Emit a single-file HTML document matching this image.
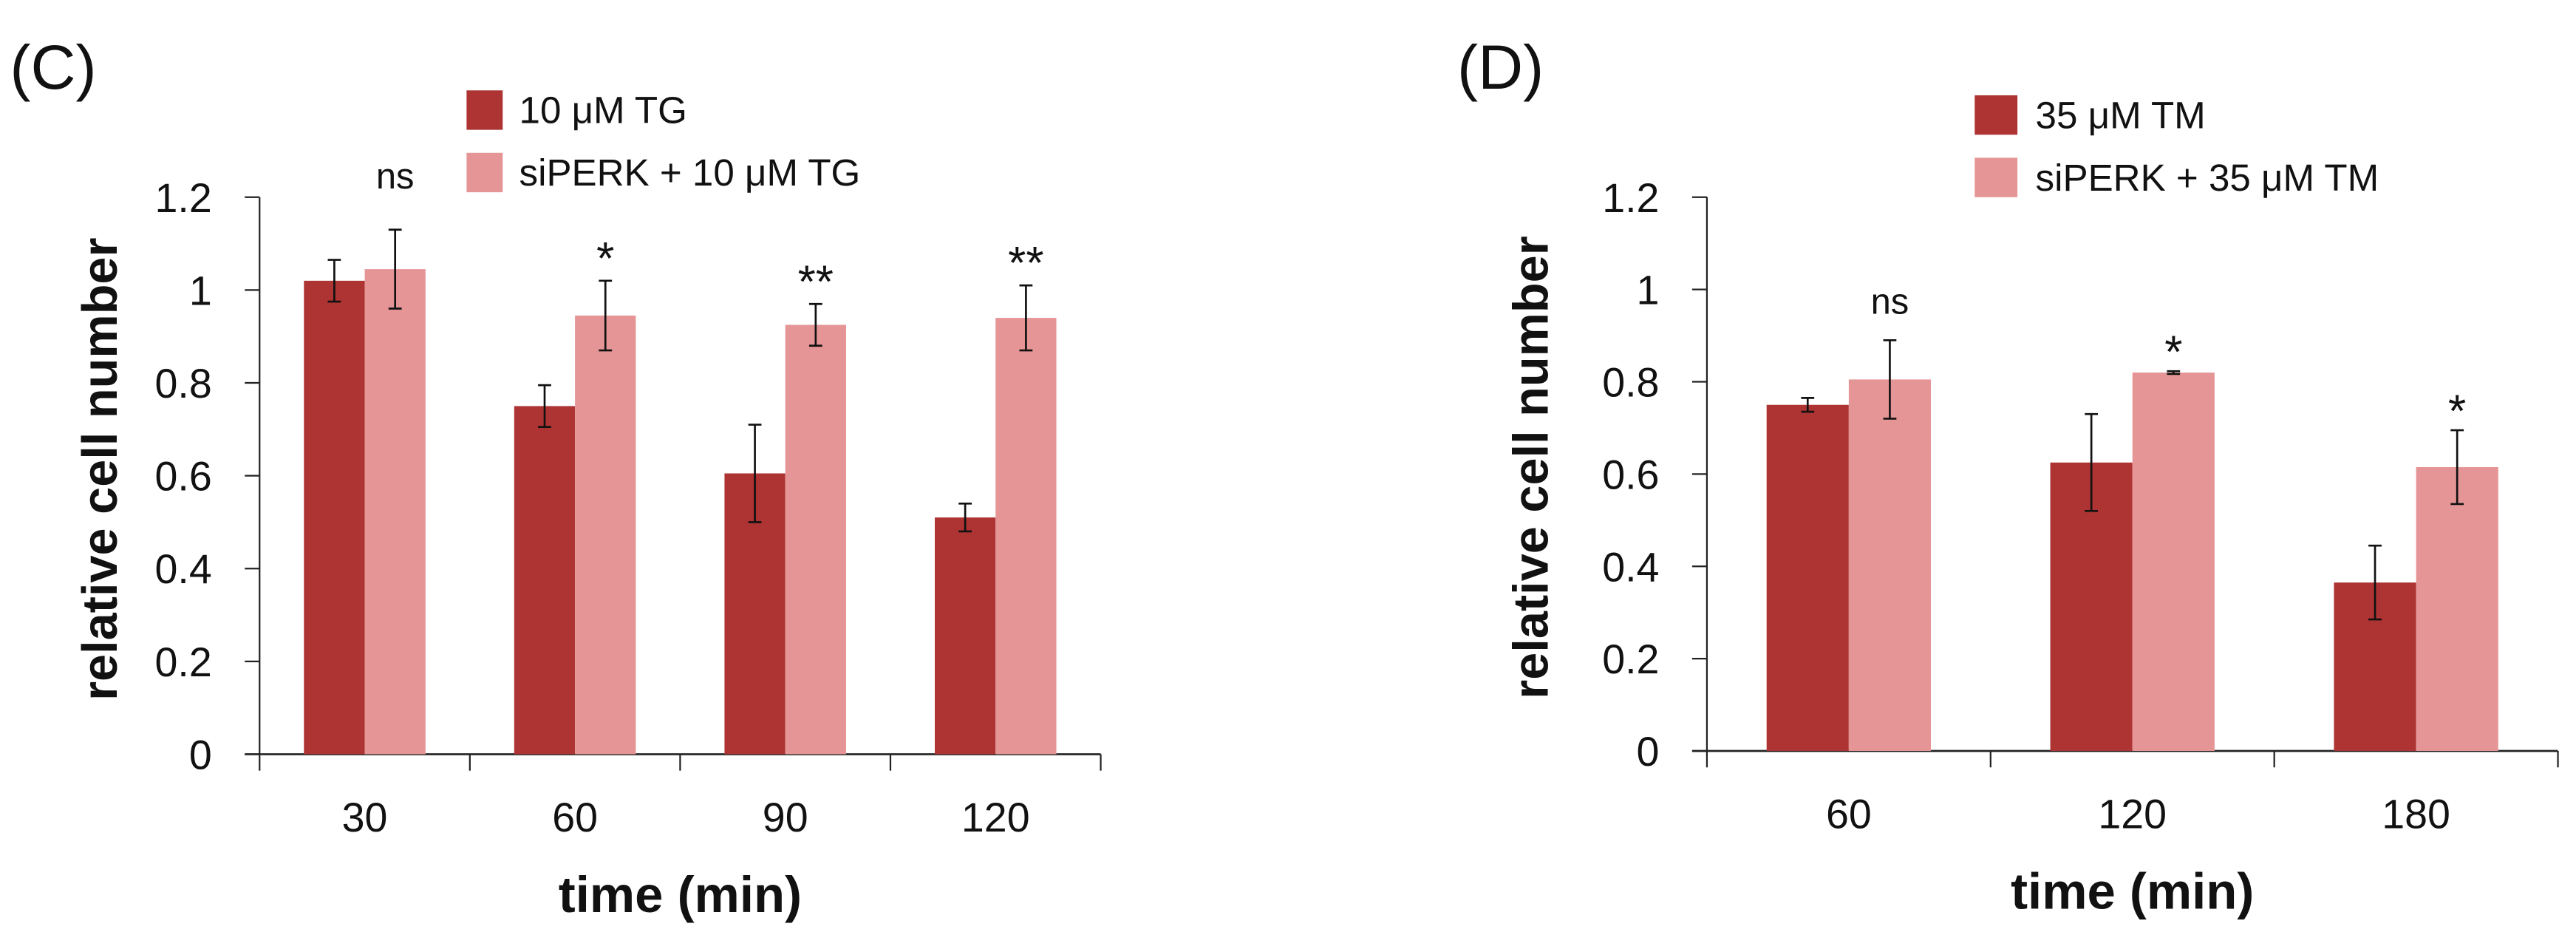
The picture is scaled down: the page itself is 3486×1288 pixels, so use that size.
<!DOCTYPE html>
<html><head><meta charset="utf-8"><style>
html,body{margin:0;padding:0;background:#fff}
svg{display:block}
text{font-family:"Liberation Sans",sans-serif;fill:#111}
</style></head><body>
<svg id="fig" width="3486" height="1288" viewBox="0 0 1568 579.35" preserveAspectRatio="none"></svg>
<script>
const catsC=["30","60","90","120"];
const darkC=[1.02,0.75,0.605,0.51];
const darkErrC=[0.045,0.045,0.105,0.03];
const lightC=[1.045,0.945,0.925,0.94];
const lightErrC=[0.085,0.075,0.045,0.07];
const sigC=["ns","*","**","**"];
const catsD=["60","120","180"];
const darkD=[0.75,0.625,0.365];
const darkErrD=[0.015,0.105,0.08];
const lightD=[0.805,0.82,0.615];
const lightErrD=[0.085,0.003,0.08];
const sigD=["ns","*","*"];
const yTicks=[0,0.2,0.4,0.6,0.8,1,1.2];
const yTickLabels=["0","0.2","0.4","0.6","0.8","1","1.2"];

const NS="http://www.w3.org/2000/svg";
const svg=document.getElementById('fig');
function el(tag,attrs,parent,txt){const e=document.createElementNS(NS,tag);for(const k in attrs)e.setAttribute(k,attrs[k]);if(txt!==undefined)e.textContent=txt;(parent||svg).appendChild(e);return e;}
const DARK="#AE3333",LIGHT="#E69596";

function panel(o){
  const g=el('g',{});
  
  
  const y=v=>o.y0-v*(o.y0-o.y12)/1.2;
  const n=o.cats.length,cw=(o.x1-o.x0)/n;
  const ax=el('line',{x1:o.x0,y1:o.y12,x2:o.x0,y2:o.y0,stroke:'#222','stroke-width':1},g);
  
  
  yTicks.forEach((t,i)=>{
    el('line',{x1:o.x0-9,x2:o.x0,y1:y(t),y2:y(t),stroke:'#222','stroke-width':1},g);
    const tl=el('text',{x:o.x0-29,y:y(t)+9,'text-anchor':'end','font-size':25},g,yTickLabels[i]);
    
    
  });
  const xa=el('line',{x1:o.x0-9,y1:o.y0,x2:o.x1,y2:o.y0,stroke:'#222','stroke-width':1.2},g);
  
  
  for(let i=0;i<=n;i++)el('line',{x1:o.x0+i*cw,x2:o.x0+i*cw,y1:o.y0,y2:o.y0+10,stroke:'#222','stroke-width':1},g);
  o.cats.forEach((c,i)=>{
    const cx=o.x0+cw*(i+0.5);
    const bars=[[o.dark,o.darkErr,DARK,cx-o.bw],[o.light,o.lightErr,LIGHT,cx]];
    bars.forEach((b,j)=>{
      const v=b[0][i],e=b[1][i];
      const r=el('rect',{x:b[3],y:y(v),width:o.bw,height:o.y0-y(v),fill:b[2]},g);
      
      
      const mx=b[3]+o.bw/2;
      el('line',{x1:mx,x2:mx,y1:y(v+e),y2:y(v-e),stroke:'#111','stroke-width':1.2},g);
      el('line',{x1:mx-4,x2:mx+4,y1:y(v+e),y2:y(v+e),stroke:'#111','stroke-width':1.2},g);
      el('line',{x1:mx-4,x2:mx+4,y1:y(v-e),y2:y(v-e),stroke:'#111','stroke-width':1.2},g);
    });
    const top=y(o.light[i]+o.lightErr[i]);
    const s=o.sig[i];
    const st=el('text',{x:cx+o.bw/2,y:s==='ns'?top-o.nsOff:top-o.starOff,'text-anchor':'middle','font-size':s==='ns'?22:28},g,s);
    
    
    const xl=el('text',{x:cx,y:o.y0+47,'text-anchor':'middle','font-size':25},g,c);
    
    
  });
  const yt=el('text',{transform:`translate(${o.ylx},${(o.y0+o.y12)/2-4}) rotate(-90)`,'text-anchor':'middle','font-size':30,'font-weight':'bold'},g,'relative cell number');
  
  
  const xt=el('text',{x:(o.x0+o.x1)/2,y:o.y0+96,'text-anchor':'middle','font-size':31,'font-weight':'bold'},g,'time (min)');
  
  
  const pl=el('text',{x:o.plx,y:54,'font-size':38},g,o.label);
  
  
  o.leg.forEach((t,i)=>{
    const ly=o.legY+i*38;
    const sq=el('rect',{x:o.legX,y:ly,width:o.legW,height:24,fill:i?LIGHT:DARK},g);
    
    
    const lt=el('text',{x:o.legTX,y:ly+20,'font-size':23},g,t);
    
    
  });
}
panel({id:'c',label:'(C)',plx:6,x0:158,x1:670,y0:459,y12:120,bw:37,cats:catsC,dark:darkC,darkErr:darkErrC,light:lightC,lightErr:lightErrC,sig:sigC,nsOff:25,starOff:4,ylx:71,legX:284,legW:22,legTX:316,legY:55,leg:["10 \u03bcM TG","siPERK + 10 \u03bcM TG"]});
panel({id:'d',label:'(D)',plx:887,x0:1039,x1:1557,y0:457,y12:120,bw:50,cats:catsD,dark:darkD,darkErr:darkErrD,light:lightD,lightErr:lightErrD,sig:sigD,nsOff:16,starOff:2,ylx:942,legX:1202,legW:26,legTX:1239,legY:58,leg:["35 \u03bcM TM","siPERK + 35 \u03bcM TM"]});
</script>
</body></html>
